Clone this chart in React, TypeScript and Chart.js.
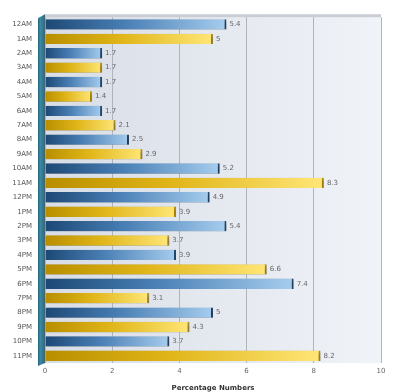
import React, { useEffect, useRef } from "react";
import { Chart, registerables } from "chart.js";

Chart.register(...registerables);

const categories = ["12AM","1AM","2AM","3AM","4AM","5AM","6AM","7AM","8AM","9AM","10AM","11AM","12PM","1PM","2PM","3PM","4PM","5PM","6PM","7PM","8PM","9PM","10PM","11PM"];
const values = [5.4, 5, 1.7, 1.7, 1.7, 1.4, 1.7, 2.1, 2.5, 2.9, 5.2, 8.3, 4.9, 3.9, 5.4, 3.7, 3.9, 6.6, 7.4, 3.1, 5, 4.3, 3.7, 8.2];
const xTicks = [0, 2, 4, 6, 8, 10];
const xTitle = "Percentage Numbers";

const FONT = "'DejaVu Sans', Verdana, sans-serif";

export default function App() {
  const ref = useRef<HTMLCanvasElement | null>(null);
  useEffect(() => {
    document.body.style.margin = "0";
    const canvas = ref.current!;
    const bgPlugin = {
      id: "bg3d",
      beforeDatasetsDraw(chart: any) {
        const { ctx, chartArea: a } = chart;
        ctx.save();
        ctx.fillStyle = "#c9cdd3";
        ctx.beginPath();
        ctx.moveTo(a.left - 7, a.top + 1);
        ctx.lineTo(a.left, a.top - 3);
        ctx.lineTo(a.right, a.top - 3);
        ctx.lineTo(a.right, a.top);
        ctx.lineTo(a.left, a.top);
        ctx.closePath();
        ctx.fill();
        ctx.restore();
      },
      beforeDraw(chart: any) {
        const { ctx, chartArea: a } = chart;
        ctx.save();
        ctx.fillStyle = "#ffffff";
        ctx.fillRect(0, 0, chart.width, chart.height);
        const g = ctx.createLinearGradient(a.left, 0, a.right, 0);
        g.addColorStop(0, "#d8dde6");
        g.addColorStop(1, "#f0f3f8");
        ctx.fillStyle = g;
        ctx.fillRect(a.left, a.top, a.right - a.left, a.bottom - a.top);
        ctx.restore();
      },
      afterDatasetsDraw(chart: any) {
        const { ctx, chartArea: a } = chart;
        ctx.save();
        const w = ctx.createLinearGradient(a.left - 8, 0, a.left, 0);
        w.addColorStop(0, "#1d4f63");
        w.addColorStop(0.4, "#3b8aa3");
        w.addColorStop(1, "#2a6a82");
        ctx.fillStyle = w;
        ctx.beginPath();
        ctx.moveTo(a.left - 7, a.top + 1);
        ctx.lineTo(a.left, a.top - 3);
        ctx.lineTo(a.left, a.bottom);
        ctx.lineTo(a.left - 7, a.bottom + 3);
        ctx.closePath();
        ctx.fill();
        const meta = chart.getDatasetMeta(0);
        ctx.font = "7px " + FONT;
        ctx.fillStyle = "#666";
        ctx.textBaseline = "middle";
        ctx.textAlign = "left";
        meta.data.forEach((el: any, i: number) => {
          ctx.fillText(String(values[i]), el.x + 3, el.y);
        });
        ctx.restore();
      },
    };
    const shadowPlugin = {
      id: "shadow",
      beforeDatasetDraw(chart: any) {
        const ctx = chart.ctx;
        ctx.save();
        ctx.shadowColor = "rgba(0,0,0,0.4)";
        ctx.shadowBlur = 5;
        ctx.shadowOffsetX = 1;
        ctx.shadowOffsetY = 2;
      },
      afterDatasetDraw(chart: any) {
        chart.ctx.restore();
      },
    };
    const fill = (c: any) => {
      const chart = c.chart;
      const i = c.dataIndex;
      const blue = i % 2 === 0;
      const xs = chart.scales && chart.scales.x;
      if (!chart.chartArea || !xs) return blue ? "#4a7fb5" : "#e8c020";
      const x0 = xs.getPixelForValue(0);
      const x1 = xs.getPixelForValue(values[i]);
      const g = chart.ctx.createLinearGradient(x0, 0, Math.max(x1, x0 + 1), 0);
      if (blue) {
        g.addColorStop(0, "#1c4875");
        g.addColorStop(0.45, "#4a80b6");
        g.addColorStop(1, "#a6cdee");
      } else {
        g.addColorStop(0, "#b88e00");
        g.addColorStop(0.45, "#e0b518");
        g.addColorStop(1, "#ffe676");
      }
      return g;
    };
    const chart = new Chart(canvas, {
      type: "bar",
      data: {
        labels: categories,
        datasets: [
          {
            data: values,
            backgroundColor: fill,
            borderColor: (c: any) => (c.dataIndex % 2 === 0 ? "#1f4f80" : "#c99a00"),
            borderWidth: { top: 0, bottom: 0, left: 0, right: 2 } as any,
            borderSkipped: false as any,
            categoryPercentage: 1,
            barPercentage: 0.72,
          },
        ],
      },
      plugins: [bgPlugin, shadowPlugin],
      options: {
        indexAxis: "y",
        animation: false,
        responsive: false,
        devicePixelRatio: 1,
        layout: { padding: { left: 0, right: 19, top: 11, bottom: 0 } },
        plugins: { legend: { display: false }, tooltip: { enabled: false } },
        scales: {
          x: {
            min: 0,
            max: 10,
            afterBuildTicks: (s: any) => {
              s.ticks = xTicks.map((v) => ({ value: v }));
            },
            afterFit: (s: any) => {
              s.height = 29;
            },
            grid: { color: "#b0b4ba", lineWidth: 1, drawTicks: false, drawOnChartArea: true },
            border: { display: false },
            ticks: { color: "#666", font: { family: FONT, size: 7 }, padding: 4 },
            title: {
              display: true,
              text: xTitle,
              color: "#333",
              font: { family: FONT, size: 7, weight: "bold" },
              padding: { top: 2, bottom: 0 },
            },
          },
          y: {
            afterFit: (s: any) => {
              s.width = 45;
            },
            grid: { display: false, drawTicks: false },
            border: { display: false },
            ticks: { color: "#555", font: { family: FONT, size: 7 }, padding: 13, autoSkip: false },
          },
        },
      },
    });
    return () => chart.destroy();
  }, []);
  return (
    <div style={{ width: 400, height: 392 }}>
      <canvas ref={ref} width={400} height={392} style={{ display: "block" }} />
    </div>
  );
}
